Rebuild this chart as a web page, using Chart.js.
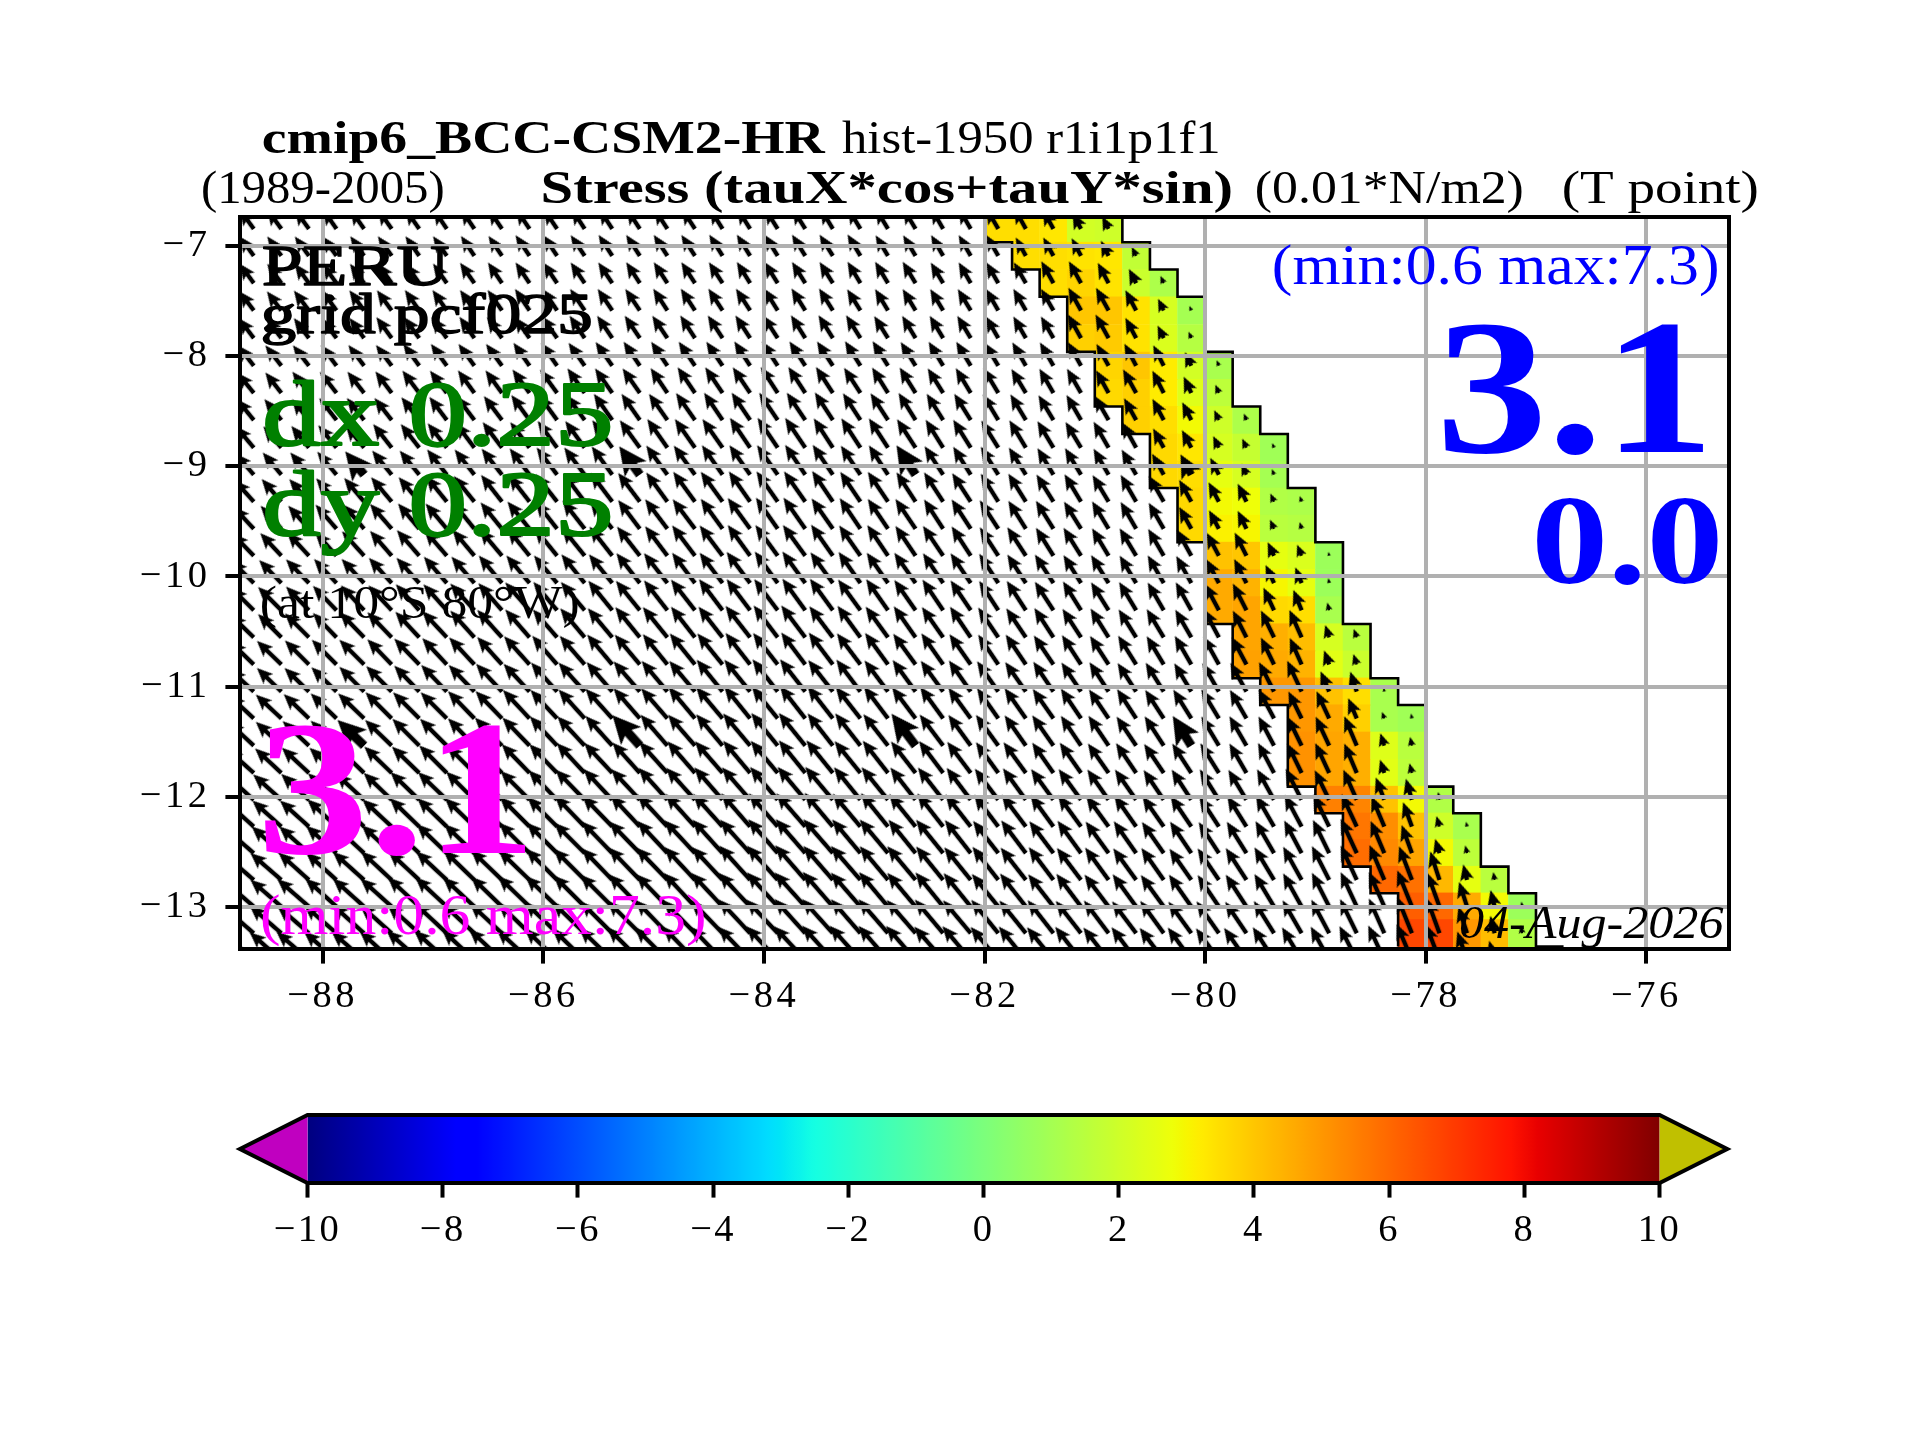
<!DOCTYPE html>
<html>
<head>
<meta charset="utf-8">
<script src="https://cdn.jsdelivr.net/npm/chart.js@4/dist/chart.umd.min.js"></script>
<style>
    html, body { margin: 0; background: #fff; }
    canvas { position: absolute; left: 0; display: block; }
</style>
</head>
<body>
<canvas id="mapChart" width="1920" height="1440" style="top:0"></canvas>
<canvas id="barChart" width="1920" height="200" style="top:1090px"></canvas>
<script>
const xTicks = [-88, -86, -84, -82, -80, -78, -76];
const yTicks = [-7, -8, -9, -10, -11, -12, -13];
const barTicks = [-10, -8, -6, -4, -2, 0, 2, 4, 6, 8, 10];

// first column of the vector grid, 0.25 deg steps
const lonStart = -88.625;
const lonStep = 0.25;

// row centres / row edges read from the coastal steps (grid gets tighter to the south)
const rowLats = [-6.845, -7.090, -7.338, -7.586, -7.837, -8.088, -8.335, -8.581, -8.832, -9.077, -9.322, -9.568, -9.813, -10.061, -10.308, -10.554, -10.800, -11.046, -11.290, -11.537, -11.785, -12.029, -12.272, -12.513, -12.756, -12.998, -13.240, -13.482];
const edgeLats = [-6.72, -6.966, -7.213, -7.461, -7.711, -7.962, -8.212, -8.457, -8.707, -8.956, -9.197, -9.447, -9.690, -9.937, -10.185, -10.432, -10.677, -10.925, -11.167, -11.412, -11.662, -11.909, -12.150, -12.393, -12.635, -12.877, -13.119, -13.361];

// west edge of the coloured strip in each row, 5 cells wide
const stripWest = [-82, -81.75, -81.5, -81.25, -81.25, -81, -81, -80.75, -80.5, -80.5, -80.25, -80.25, -80, -80, -80, -79.75, -79.75, -79.5, -79.25, -79.25, -79.25, -79, -78.75, -78.75, -78.5, -78.25, -78.25];
const stripValues = [
    [3.5, 3.5, 3.3, 2.1, 2.0],
    [3.5, 3.5, 3.4, 3.3, 1.7],
    [3.5, 3.7, 3.4, 1.9, 1.2],
    [4.0, 4.0, 3.4, 2.2, 1.0],
    [3.8, 3.9, 3.4, 2.3, 1.4],
    [3.7, 4.0, 3.2, 2.1, 1.1],
    [3.6, 3.8, 3.2, 2.4, 1.6],
    [3.8, 3.5, 2.9, 2.0, 1.2],
    [3.6, 3.3, 2.2, 1.8, 0.9],
    [3.6, 3.5, 2.6, 2.2, 1.0],
    [3.6, 2.9, 2.8, 1.3, 1.2],
    [3.6, 3.1, 3.0, 1.5, 1.4],
    [4.1, 4.0, 2.6, 2.3, 0.8],
    [4.6, 4.4, 3.0, 2.6, 0.8],
    [4.6, 4.7, 3.6, 3.5, 1.1],
    [4.7, 4.5, 4.2, 2.2, 1.5],
    [4.8, 4.6, 4.4, 2.5, 1.9],
    [5.0, 5.0, 4.1, 3.5, 1.1],
    [5.0, 4.6, 3.8, 1.1, 0.9],
    [5.1, 4.7, 4.5, 2.4, 1.5],
    [5.1, 4.7, 4.5, 2.5, 1.6],
    [5.5, 5.4, 4.1, 2.9, 1.3],
    [5.7, 5.2, 4.1, 2.0, 1.1],
    [5.9, 5.3, 4.7, 2.9, 1.6],
    [6.0, 5.8, 4.3, 2.6, 1.5],
    [6.2, 6.0, 4.6, 2.9, 0.8],
    [6.7, 6.7, 5.0, 4.2, 1.3]
];

// vector length (px on the quiver scale), one row per latitude, from lonStart eastward
const vecLen = [
    [24,24,24,24,24,24,24,24,24,24,24,24,24,24,24,24,24,24,24,24,24,24,24,24,24,24,24,24,24,22,18,14],
    [24,24,24,24,24,24,24,24,24,24,25,25,25,25,25,25,25,25,25,25,25,25,25,24,24,24,24,24,21,21,20,17,10],
    [24,24,24,24,24,24,24,24,25,25,25,25,25,25,25,25,25,25,25,25,25,25,25,25,25,24,24,24,24,25,25,23,16,8],
    [24,24,25,25,25,25,25,25,25,25,26,26,26,26,26,26,26,26,26,26,26,26,25,25,25,25,25,25,25,25,26,26,23,13,5],
    [25,25,25,25,25,26,26,26,26,26,26,27,27,27,27,27,27,27,27,27,27,27,27,26,26,26,26,25,25,25,27,27,23,14,7],
    [26,26,26,26,26,26,27,27,27,27,28,28,28,29,29,29,29,29,29,29,29,29,29,29,28,28,28,27,27,27,27,25,25,23,15,6],
    [26,26,27,27,27,27,28,28,28,28,29,29,30,30,30,30,31,31,31,31,31,31,30,30,30,29,29,29,28,28,28,26,27,25,18,9],
    [27,27,27,28,28,28,29,29,30,30,31,31,31,32,32,32,33,33,33,33,33,33,32,32,32,31,31,30,30,29,29,28,25,24,20,11,7],
    [28,28,28,29,29,30,30,31,31,32,32,33,33,34,34,35,35,35,36,36,36,35,35,35,34,33,33,32,32,31,30,30,29,22,20,13,10,5],
    [28,29,29,30,30,31,31,32,32,33,33,34,34,35,35,36,36,36,36,36,36,36,35,35,35,34,33,33,32,31,31,30,29,24,23,19,12,6],
    [29,30,30,31,31,32,32,33,33,34,34,35,35,36,36,36,37,37,37,37,37,37,36,36,35,35,34,33,33,32,32,31,31,30,25,22,20,9,6],
    [30,31,31,32,32,33,33,33,34,34,35,35,36,36,36,37,37,37,38,38,38,37,37,36,36,35,35,34,33,33,32,32,31,30,25,21,20,10,7],
    [31,31,32,32,33,33,34,34,34,35,35,36,36,37,37,37,38,38,38,38,38,38,37,37,36,36,35,34,34,33,33,32,32,31,30,26,26,15,12,4],
    [32,32,33,33,33,34,34,35,35,36,36,36,37,37,38,38,38,38,39,39,39,38,38,37,37,36,36,35,34,34,33,33,32,32,31,27,27,20,17,5],
    [32,33,33,34,34,34,35,35,36,36,37,37,37,38,38,38,39,39,39,39,39,39,38,38,37,37,36,35,35,34,34,33,33,32,32,30,30,25,22,8],
    [33,33,34,34,35,35,35,36,36,37,37,37,38,38,39,39,39,39,40,40,40,39,39,38,38,37,37,36,35,35,34,34,33,33,32,32,30,30,30,13,9],
    [33,34,34,35,35,35,36,36,37,37,38,38,38,39,39,39,40,40,40,40,40,40,39,39,38,38,37,36,36,35,35,34,34,33,33,32,31,30,29,15,11],
    [33,34,34,35,35,36,36,37,37,38,38,39,39,39,40,40,40,41,41,41,41,40,40,39,39,38,38,37,36,36,35,35,34,34,33,33,33,33,34,22,21,4],
    [34,35,35,36,36,37,37,37,38,38,39,39,39,40,40,40,41,41,41,41,41,41,40,40,39,39,38,37,37,36,36,35,35,34,34,34,33,33,30,30,22,7,5],
    [35,35,36,36,37,37,38,38,38,39,39,40,40,40,41,41,41,41,42,42,42,41,41,40,40,39,38,38,37,37,36,36,35,35,35,34,34,33,32,32,32,13,9],
    [36,36,37,37,38,38,38,39,39,40,40,40,41,41,41,42,42,42,42,42,42,42,41,41,40,40,39,38,38,37,37,36,36,35,35,35,34,34,33,33,32,14,10],
    [38,38,38,39,39,39,40,40,40,41,41,41,42,42,42,43,43,43,43,43,43,43,42,42,41,41,40,39,39,38,38,37,37,36,36,36,35,35,35,33,33,24,22,8],
    [39,39,39,40,40,40,41,41,41,42,42,42,43,43,43,44,44,44,44,44,44,44,43,43,42,42,41,40,40,39,39,38,38,37,37,36,36,36,36,36,36,33,26,11,5],
    [40,40,40,41,41,41,41,42,42,42,43,43,43,44,44,44,45,45,45,45,45,45,44,44,43,43,42,41,41,40,40,39,39,38,38,37,37,37,37,37,38,35,30,15,8],
    [41,41,41,41,42,42,42,42,43,43,43,44,44,44,45,45,45,45,46,46,46,45,45,44,44,43,42,42,41,41,40,40,39,39,38,38,38,38,38,38,38,38,36,30,16,8],
    [41,41,42,42,42,42,43,43,43,43,44,44,44,45,45,45,46,46,46,46,46,46,45,45,44,44,43,42,42,41,41,40,40,39,39,38,38,38,38,38,38,38,39,36,26,17,5],
    [42,42,42,43,43,43,43,44,44,44,44,45,45,45,46,46,46,46,46,46,46,46,45,45,44,44,43,43,42,42,41,41,40,40,39,39,38,38,38,38,38,38,39,37,28,18,8],
    [42,42,43,43,43,43,44,44,44,45,45,45,45,46,46,46,46,46,46,46,46,46,46,45,45,44,44,43,43,42,42,41,41,40,40,39,39,39,38,38,38,38,39,38,30,20,10,6]
];

// vector direction, degrees west of north, same layout as vecLen
const vecDir = [
    [36,36,36,35,35,35,35,34,34,34,34,34,33,33,33,33,33,32,32,32,32,31,31,31,31,30,30,30,29,29,28,27],
    [36,36,36,36,35,35,35,35,34,34,34,34,34,33,33,33,33,32,32,32,32,32,31,31,31,30,30,30,29,29,28,27,26],
    [36,36,36,36,36,35,35,35,35,34,34,34,34,34,33,33,33,33,32,32,32,32,31,31,31,31,30,30,30,29,29,28,27,24],
    [37,37,37,36,36,36,35,35,35,35,34,34,34,34,34,33,33,33,33,32,32,32,32,31,31,31,31,30,30,30,29,29,28,26,22],
    [37,37,37,37,36,36,36,36,35,35,35,35,34,34,34,34,33,33,33,33,32,32,32,32,31,31,31,30,30,30,29,29,28,26,23],
    [38,38,38,37,37,37,36,36,36,36,35,35,35,35,34,34,34,34,33,33,33,33,32,32,32,31,31,31,30,30,29,29,28,27,25,22],
    [39,38,38,38,38,37,37,37,36,36,36,36,35,35,35,34,34,34,34,33,33,33,33,32,32,32,31,31,31,30,30,29,29,27,25,23],
    [39,39,39,38,38,38,38,37,37,37,36,36,36,35,35,35,35,34,34,34,34,33,33,33,32,32,32,31,31,31,30,30,29,28,27,25,22],
    [40,40,39,39,39,38,38,38,37,37,37,36,36,36,36,35,35,35,34,34,34,33,33,33,33,32,32,32,31,31,31,30,29,29,28,26,25,22],
    [41,40,40,40,39,39,39,38,38,38,37,37,37,36,36,36,36,35,35,35,34,34,34,33,33,33,32,32,32,31,31,30,30,29,28,27,25,21],
    [42,41,41,41,40,40,40,39,39,38,38,38,37,37,37,36,36,36,35,35,35,34,34,34,33,33,33,32,32,32,31,31,30,30,29,28,26,24,18],
    [43,42,42,41,41,41,40,40,39,39,39,38,38,38,37,37,37,36,36,35,35,35,34,34,34,33,33,33,32,32,32,31,30,30,29,28,26,24,16],
    [44,43,43,42,42,41,41,41,40,40,39,39,39,38,38,37,37,37,36,36,36,35,35,34,34,34,33,33,33,32,32,31,31,30,29,28,27,25,22,12],
    [45,44,44,43,43,42,42,41,41,40,40,40,39,39,38,38,37,37,37,36,36,36,35,35,35,34,34,33,33,33,32,32,31,30,29,28,27,25,22,10],
    [45,45,44,44,43,43,42,42,42,41,41,40,40,39,39,38,38,37,37,37,36,36,36,35,35,34,34,33,33,33,32,32,31,30,29,28,27,25,22,14],
    [46,45,45,44,44,44,43,43,42,42,41,41,40,40,39,39,38,38,38,37,37,37,36,36,35,35,34,34,34,33,33,32,32,31,30,28,27,26,24,18,20],
    [46,46,45,45,45,44,44,43,43,42,42,41,41,40,40,39,39,39,38,38,37,37,37,36,36,35,35,34,34,34,33,33,32,31,30,29,28,26,24,20,18],
    [47,46,46,46,45,45,44,44,44,43,43,42,42,41,41,40,40,39,39,38,38,38,37,37,36,36,35,35,35,34,34,33,33,32,31,30,29,27,25,23,18,10],
    [47,47,46,46,46,45,45,45,44,44,43,43,42,42,41,41,40,40,39,39,38,38,38,37,37,36,36,35,35,35,34,34,33,33,32,31,30,28,26,25,23,20,10],
    [47,47,47,46,46,46,45,45,44,44,44,43,43,42,42,41,41,40,40,39,39,38,38,38,37,37,36,36,35,35,34,34,34,33,32,31,30,28,26,25,23,18,12],
    [48,47,47,47,46,46,46,45,45,44,44,44,43,43,42,42,41,41,40,40,39,39,39,38,38,37,37,36,36,35,35,35,34,34,33,32,30,28,26,25,23,18,14],
    [48,48,47,47,47,46,46,46,45,45,45,44,44,43,43,42,42,41,41,40,40,40,39,39,38,38,37,37,36,36,36,35,35,34,33,32,31,29,27,26,24,21,16,10],
    [48,48,48,47,47,47,46,46,46,45,45,45,44,44,43,43,42,42,41,41,41,40,40,39,39,38,38,37,37,36,36,36,35,35,34,33,32,30,28,26,25,23,20,16,12],
    [49,48,48,48,47,47,47,46,46,46,45,45,45,44,44,43,43,42,42,41,41,41,40,40,39,39,38,38,37,37,36,36,35,35,34,33,32,30,28,26,25,23,20,17,14],
    [49,49,48,48,48,47,47,47,46,46,46,45,45,44,44,44,43,43,42,42,41,41,41,40,40,39,39,38,38,37,37,36,36,35,35,34,33,31,29,27,25,23,21,18,14,10],
    [49,49,49,48,48,48,47,47,47,46,46,46,45,45,44,44,43,43,43,42,42,41,41,40,40,39,39,39,38,38,37,37,36,36,35,34,33,31,29,27,25,24,22,20,18,14,10],
    [49,49,49,49,48,48,48,47,47,47,46,46,46,45,45,44,44,44,43,43,42,42,41,41,41,40,40,39,39,38,38,37,37,36,36,35,34,32,30,28,26,24,22,20,18,14,12],
    [49,49,49,49,49,48,48,48,47,47,47,46,46,46,45,45,44,44,44,43,43,42,42,41,41,41,40,40,39,39,38,38,37,37,36,36,35,33,31,29,27,25,23,21,19,16,12,10]
];

// the reference vectors drawn heavier
const heavyRows = [9, 19];
const heavyLons = [-87.625, -85.125, -82.625, -80.125];

// matplotlib jet segments
const jetRed = [[0, 0], [0.35, 0], [0.66, 1], [0.89, 1], [1, 0.5]];
const jetGreen = [[0, 0], [0.125, 0], [0.375, 1], [0.64, 1], [0.91, 0], [1, 0]];
const jetBlue = [[0, 0.5], [0.11, 1], [0.34, 1], [0.65, 0], [1, 0]];

function segment(seg, t) {
    for (let i = 1; i < seg.length; i++) {
        if (t <= seg[i][0]) {
            const f = (t - seg[i - 1][0]) / (seg[i][0] - seg[i - 1][0]);
            return seg[i - 1][1] + f * (seg[i][1] - seg[i - 1][1]);
        }
    }
    return seg[seg.length - 1][1];
}

function jet(t) {
    const r = Math.round(255 * segment(jetRed, t));
    const g = Math.round(255 * segment(jetGreen, t));
    const b = Math.round(255 * segment(jetBlue, t));
    return `rgb(${r},${g},${b})`;
}

const valueColor = v => jet((v + 10) / 20);

// arrow sprite with the tail on the canvas centre, pointing up
const sprites = {};
function arrowSprite(len, heavy) {
    const key = len + (heavy ? "h" : "");
    if (sprites[key]) return sprites[key];
    const r = Math.ceil(len) + 8;
    const c = document.createElement("canvas");
    c.width = r * 2;
    c.height = r * 2;
    const g = c.getContext("2d");
    const shaft = heavy ? 9 : 4.4;
    const headW = heavy ? 27 : 14;
    const headL = heavy ? 28 : 16;
    const s = Math.min(1, len / headL);
    const hl = headL * s, hw = headW * s / 2, w = shaft * s / 2;
    g.translate(r, r);
    g.beginPath();
    g.moveTo(-w, 0);
    g.lineTo(-w, -(len - hl * 0.85));
    g.lineTo(-hw, -(len - hl));
    g.lineTo(0, -len);
    g.lineTo(hw, -(len - hl));
    g.lineTo(w, -(len - hl * 0.85));
    g.lineTo(w, 0);
    g.closePath();
    g.fillStyle = "#000";
    g.fill();
    sprites[key] = c;
    return c;
}

const cellPoints = [];
stripValues.forEach((row, r) => {
    row.forEach((v, i) => {
        cellPoints.push({ x: stripWest[r] + lonStep * (i + 0.5), y: rowLats[r], v: v });
    });
});

const vectorPoints = [];
vecLen.forEach((row, r) => {
    row.forEach((len, i) => {
        const x = lonStart + lonStep * i;
        vectorPoints.push({
            x: x,
            y: rowLats[r],
            len: len,
            dir: vecDir[r][i],
            heavy: heavyRows.includes(r) && heavyLons.includes(x)
        });
    });
});

const westLine = [];
const eastLine = [];
stripWest.forEach((w, r) => {
    westLine.push({ x: w, y: edgeLats[r] }, { x: w, y: edgeLats[r + 1] });
    eastLine.push({ x: w + 1.25, y: edgeLats[r] }, { x: w + 1.25, y: edgeLats[r + 1] });
});
eastLine.push({ x: -76.75, y: edgeLats[edgeLats.length - 1] });

const SERIF = '"Liberation Serif", serif';

// draws text stretched so its ink covers the x span it has in the reference (Computer Modern runs wider)
function spanText(ctx, text, x0, x1, base, font, color, heavier) {
    ctx.save();
    ctx.letterSpacing = "0px";
    ctx.font = font + " " + SERIF;
    ctx.fillStyle = color;
    ctx.textBaseline = "alphabetic";
    ctx.textAlign = "left";
    const m = ctx.measureText(text);
    const ink = m.actualBoundingBoxLeft + m.actualBoundingBoxRight;
    const sx = (x1 - x0) / ink;
    ctx.translate(x0, base);
    ctx.scale(sx, 1);
    ctx.fillText(text, m.actualBoundingBoxLeft, 0);
    if (heavier) {
        ctx.strokeStyle = color;
        ctx.lineWidth = heavier;
        ctx.lineJoin = "round";
        ctx.strokeText(text, m.actualBoundingBoxLeft, 0);
    }
    ctx.restore();
}

const mapFurniture = {
    id: "mapFurniture",
    beforeDraw(chart) {
        chart.ctx.letterSpacing = "3.5px";
    },
    afterDraw(chart) {
        const ctx = chart.ctx;
        const a = chart.chartArea;
        ctx.letterSpacing = "0px";
        ctx.save();
        ctx.strokeStyle = "#000";
        ctx.lineWidth = 4;
        ctx.strokeRect(a.left, a.top, a.right - a.left, a.bottom - a.top);
        ctx.restore();

        spanText(ctx, "cmip6_BCC-CSM2-HR", 263, 826, 153, "bold 47px", "#000");
        spanText(ctx, "hist-1950 r1i1p1f1", 842, 1218, 153, "47px", "#000");
        spanText(ctx, "(1989-2005)", 203, 443, 203, "47px", "#000");
        spanText(ctx, "Stress (tauX*cos+tauY*sin)", 543, 1231, 203, "bold 47px", "#000");
        spanText(ctx, "(0.01*N/m2)", 1257, 1522, 203, "47px", "#000");
        spanText(ctx, "(T point)", 1564, 1757, 203, "47px", "#000");

        spanText(ctx, "PERU", 263, 448, 285, "57px", "#000", 1.4);
        spanText(ctx, "grid pcf025", 263, 591, 333, "57px", "#000", 1.4);
        spanText(ctx, "dx 0.25", 266, 609, 445, "93px", "#008000", 2.2);
        spanText(ctx, "dy 0.25", 266, 609, 535, "93px", "#008000", 2.2);
        spanText(ctx, "(at 10°S 80°W)", 262, 578, 618, "47px", "#000");
        spanText(ctx, "3.1", 265, 526, 853, "bold 192px", "#ff00ff");
        spanText(ctx, "(min:0.6 max:7.3)", 262, 704, 934, "58px", "#ff00ff");

        spanText(ctx, "(min:0.6 max:7.3)", 1274, 1717, 284, "58px", "#0000ff");
        spanText(ctx, "3.1", 1444, 1704, 452, "bold 192px", "#0000ff");
        spanText(ctx, "0.0", 1536, 1718, 583, "bold 127px", "#0000ff");
        spanText(ctx, "04-Aug-2026", 1460, 1724, 938, "italic 47px", "#000");
    }
};

const minusLabel = v => String(v).replace("-", "\u2212");

const axisCommon = {
    grid: { color: "#b0b0b0", lineWidth: 4, tickColor: "#000", tickLength: 14.6, tickWidth: 4, z: 1 },
    border: { color: "#000", width: 4, z: 2 }
};

new Chart(document.getElementById("mapChart"), {
    type: "scatter",
    data: {
        datasets: [
            {
                label: "vectors",
                data: vectorPoints,
                clip: 0,
                order: 0,
                pointRadius: 60,
                pointBorderWidth: 0,
                pointStyle: c => c.raw ? arrowSprite(c.raw.len, c.raw.heavy) : "circle",
                pointRotation: c => c.raw ? -c.raw.dir : 0
            },
            { label: "west", data: westLine, showLine: true, order: 1, pointRadius: 0, borderColor: "#000", borderWidth: 2.6 },
            { label: "east", data: eastLine, showLine: true, order: 1, pointRadius: 0, borderColor: "#000", borderWidth: 2.6 },
            {
                label: "stress",
                data: cellPoints,
                clip: 0,
                order: 2,
                pointStyle: "rect",
                pointRadius: 19.8,
                pointBorderWidth: 0,
                pointBackgroundColor: c => c.raw ? valueColor(c.raw.v) : "#fff"
            }
        ]
    },
    options: {
        responsive: false,
        devicePixelRatio: 1,
        animation: false,
        events: [],
        layout: { padding: { left: 140, right: 191, top: 217, bottom: 431 } },
        plugins: { legend: { display: false }, tooltip: { enabled: false }, title: { display: false } },
        scales: {
            x: {
                type: "linear",
                min: -88.75,
                max: -75.25,
                ...axisCommon,
                afterBuildTicks: s => { s.ticks = xTicks.map(v => ({ value: v })); },
                afterFit: s => { s.height = 60; },
                ticks: {
                    color: "#000",
                    font: { family: SERIF, size: 38.5 },
                    padding: 10,
                    autoSkip: false,
                    maxRotation: 0,
                    callback: minusLabel
                }
            },
            y: {
                type: "linear",
                min: -13.383,
                max: -6.737,
                ...axisCommon,
                afterBuildTicks: s => { s.ticks = yTicks.map(v => ({ value: v })); },
                afterFit: s => { s.width = 100; },
                ticks: {
                    color: "#000",
                    font: { family: SERIF, size: 38.5 },
                    padding: 15,
                    autoSkip: false,
                    callback: minusLabel
                }
            }
        }
    },
    plugins: [mapFurniture]
});

// colour bar
const extendTo = [-11, 11];
const underColor = "#c000c0";
const overColor = "#c0c000";

const barFurniture = {
    id: "barFurniture",
    beforeDraw(chart) {
        chart.ctx.letterSpacing = "2.5px";
    },
    afterDatasetsDraw(chart) {
        const ctx = chart.ctx;
        const a = chart.chartArea;
        const x = chart.scales.x;
        const mid = (a.top + a.bottom) / 2;
        const tipL = x.getPixelForValue(extendTo[0]);
        const tipR = x.getPixelForValue(extendTo[1]);
        ctx.save();
        ctx.fillStyle = underColor;
        ctx.beginPath();
        ctx.moveTo(a.left, a.top);
        ctx.lineTo(tipL, mid);
        ctx.lineTo(a.left, a.bottom);
        ctx.closePath();
        ctx.fill();
        ctx.fillStyle = overColor;
        ctx.beginPath();
        ctx.moveTo(a.right, a.top);
        ctx.lineTo(tipR, mid);
        ctx.lineTo(a.right, a.bottom);
        ctx.closePath();
        ctx.fill();
        ctx.strokeStyle = "#000";
        ctx.lineWidth = 4;
        ctx.lineJoin = "miter";
        ctx.beginPath();
        ctx.moveTo(tipL, mid);
        ctx.lineTo(a.left, a.top);
        ctx.lineTo(a.right, a.top);
        ctx.lineTo(tipR, mid);
        ctx.lineTo(a.right, a.bottom);
        ctx.lineTo(a.left, a.bottom);
        ctx.closePath();
        ctx.stroke();
        ctx.restore();
    }
};

new Chart(document.getElementById("barChart"), {
    type: "bar",
    data: {
        labels: [""],
        datasets: [{
            data: [[barTicks[0], barTicks[barTicks.length - 1]]],
            barPercentage: 1,
            categoryPercentage: 1,
            borderWidth: 0,
            backgroundColor: c => {
                const x = c.chart.scales.x;
                if (!x || !c.chart.chartArea) return "#000";
                const g = c.chart.ctx.createLinearGradient(x.left, 0, x.right, 0);
                for (let i = 0; i <= 255; i++) g.addColorStop(i / 255, jet(i / 255));
                return g;
            }
        }]
    },
    options: {
        indexAxis: "y",
        responsive: false,
        devicePixelRatio: 1,
        animation: false,
        events: [],
        layout: { padding: { left: 307.5, right: 260.4, top: 25, bottom: 47 } },
        plugins: { legend: { display: false }, tooltip: { enabled: false } },
        scales: {
            x: {
                type: "linear",
                min: -10,
                max: 10,
                grid: { drawOnChartArea: false, tickColor: "#000", tickLength: 14.6, tickWidth: 4 },
                border: { display: false },
                afterBuildTicks: s => { s.ticks = barTicks.map(v => ({ value: v })); },
                afterFit: s => { s.height = 60; },
                ticks: {
                    color: "#000",
                    font: { family: SERIF, size: 38.5 },
                    padding: 10,
                    autoSkip: false,
                    maxRotation: 0,
                    callback: minusLabel
                }
            },
            y: { display: false }
        }
    },
    plugins: [barFurniture]
});
</script>
</body>
</html>
